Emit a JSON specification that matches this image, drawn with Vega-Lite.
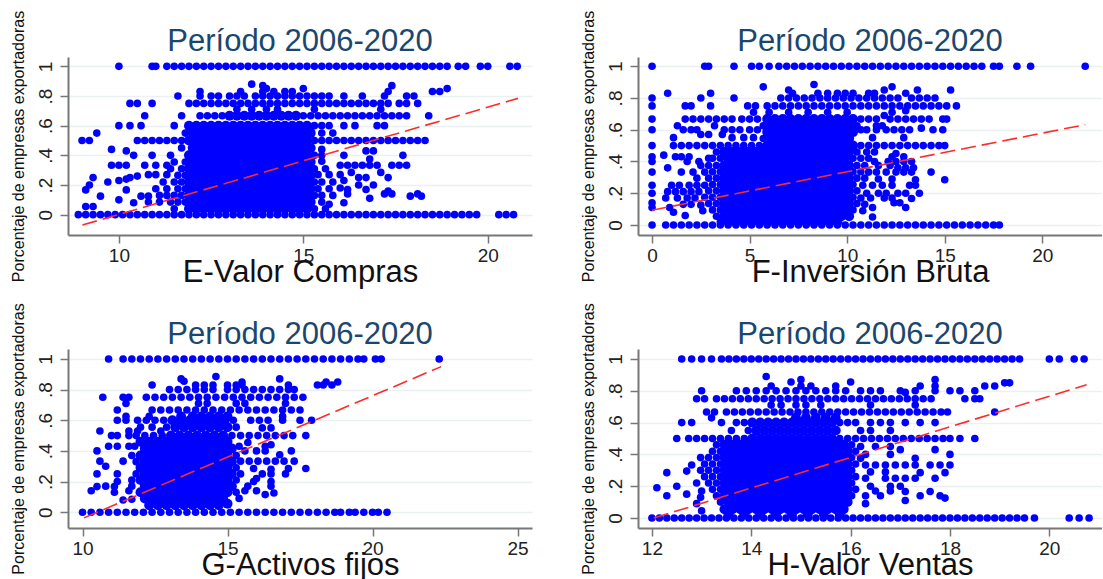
{"$schema":"https://vega.github.io/schema/vega-lite/v6.json","padding":{"left":9,"top":10,"right":0,"bottom":0},"background":"white","columns":2,"bounds":"flush","spacing":{"column":106,"row":114},
"config":{"view":{"stroke":null},"title":{"font":"Liberation Sans","fontSize":31,"fontWeight":"normal","color":"#1a476f","offset":6,"anchor":"middle","dy":54},"axis":{"labelFont":"Liberation Sans","titleFont":"Liberation Sans","labelFontSize":19,"labelColor":"#222222","titleColor":"#111111","titleFontWeight":"normal","domainColor":"#777777","domainWidth":2,"tickColor":"#777777","tickSize":8,"tickWidth":1.5,"labelOverlap":false},"axisX":{"grid":false,"titleFontSize":31,"titlePadding":-8,"labelPadding":3},"axisY":{"grid":true,"gridColor":"#e9f1f3","gridWidth":1.5,"labelAngle":-90,"titleFontSize":16,"titlePadding":10,"labelPadding":5}},
"datasets":{
"e":[{"x":10,"y":1},{"x":10.9,"y":1},{"x":11,"y":1},{"x":11.3,"y":1},{"x":11.5,"y":1},{"x":11.7,"y":1},{"x":11.9,"y":1},{"x":12.1,"y":1},{"x":12.3,"y":1},{"x":12.5,"y":1},{"x":12.7,"y":1},{"x":12.9,"y":1},{"x":13.1,"y":1},{"x":13.3,"y":1},{"x":13.5,"y":1},{"x":13.7,"y":1},{"x":13.9,"y":1},{"x":14.1,"y":1},{"x":14.3,"y":1},{"x":14.5,"y":1},{"x":14.7,"y":1},{"x":14.9,"y":1},{"x":15.1,"y":1},{"x":15.3,"y":1},{"x":15.5,"y":1},{"x":15.7,"y":1},{"x":15.9,"y":1},{"x":16.1,"y":1},{"x":16.3,"y":1},{"x":16.5,"y":1},{"x":16.7,"y":1},{"x":16.9,"y":1},{"x":17.1,"y":1},{"x":17.3,"y":1},{"x":17.5,"y":1},{"x":17.7,"y":1},{"x":17.9,"y":1},{"x":18.1,"y":1},{"x":18.3,"y":1},{"x":18.5,"y":1},{"x":18.7,"y":1},{"x":18.9,"y":1},{"x":19.2,"y":1},{"x":19.4,"y":1},{"x":19.8,"y":1},{"x":20,"y":1},{"x":20.6,"y":1},{"x":20.8,"y":1},
{"x":8.9,"y":0},{"x":9.1,"y":0},{"x":9.3,"y":0},{"x":9.5,"y":0},{"x":9.7,"y":0},{"x":9.9,"y":0},{"x":10.1,"y":0},{"x":10.3,"y":0},{"x":10.5,"y":0},{"x":10.7,"y":0},{"x":10.9,"y":0},{"x":11.1,"y":0},{"x":11.3,"y":0},{"x":11.5,"y":0},{"x":11.7,"y":0},{"x":11.9,"y":0},{"x":12.1,"y":0},{"x":12.3,"y":0},{"x":12.5,"y":0},{"x":12.7,"y":0},{"x":12.9,"y":0},{"x":13.1,"y":0},{"x":13.3,"y":0},{"x":13.5,"y":0},{"x":13.7,"y":0},{"x":13.9,"y":0},{"x":14.1,"y":0},{"x":14.3,"y":0},{"x":14.5,"y":0},{"x":14.7,"y":0},{"x":14.9,"y":0},{"x":15.1,"y":0},{"x":15.3,"y":0},{"x":15.5,"y":0},{"x":15.7,"y":0},{"x":15.9,"y":0},{"x":16.1,"y":0},{"x":16.3,"y":0},{"x":16.5,"y":0},{"x":16.7,"y":0},{"x":16.9,"y":0},{"x":17.1,"y":0},{"x":17.3,"y":0},{"x":17.5,"y":0},{"x":17.7,"y":0},{"x":17.9,"y":0},{"x":18.1,"y":0},{"x":18.3,"y":0},{"x":18.5,"y":0},{"x":18.7,"y":0},{"x":18.9,"y":0},{"x":19.1,"y":0},{"x":19.3,"y":0},{"x":19.5,"y":0},{"x":19.7,"y":0},{"x":20.3,"y":0},{"x":20.5,"y":0},{"x":20.7,"y":0},
{"x":13.6,"y":0.88},{"x":13.9,"y":0.87},{"x":14,"y":0.85},{"x":15,"y":0.85},{"x":12.2,"y":0.83},{"x":13.3,"y":0.83},{"x":13.9,"y":0.83},{"x":14.2,"y":0.83},{"x":14.5,"y":0.83},{"x":14.7,"y":0.83},{"x":17.3,"y":0.83},{"x":17.4,"y":0.87},{"x":18.5,"y":0.83},{"x":18.7,"y":0.83},{"x":18.9,"y":0.85},{"x":11.6,"y":0.8},{"x":12.2,"y":0.8},{"x":12.5,"y":0.8},{"x":12.7,"y":0.8},{"x":13,"y":0.8},{"x":13.2,"y":0.8},{"x":13.4,"y":0.8},{"x":13.7,"y":0.8},{"x":13.9,"y":0.8},{"x":14.1,"y":0.8},{"x":14.3,"y":0.8},{"x":14.5,"y":0.8},{"x":14.7,"y":0.8},{"x":14.9,"y":0.8},{"x":15.1,"y":0.8},{"x":15.3,"y":0.8},{"x":15.5,"y":0.8},{"x":15.7,"y":0.8},{"x":16.1,"y":0.8},{"x":16.6,"y":0.8},{"x":17.2,"y":0.8},{"x":17.8,"y":0.8},{"x":18,"y":0.8},
{"x":10.3,"y":0.75},{"x":10.5,"y":0.75},{"x":10.9,"y":0.75},{"x":11.9,"y":0.75},{"x":12.1,"y":0.75},{"x":12.3,"y":0.75},{"x":12.5,"y":0.75},{"x":12.7,"y":0.75},{"x":12.9,"y":0.75},{"x":13.1,"y":0.75},{"x":13.3,"y":0.75},{"x":13.5,"y":0.75},{"x":13.7,"y":0.75},{"x":13.9,"y":0.75},{"x":14.1,"y":0.75},{"x":14.3,"y":0.75},{"x":14.5,"y":0.75},{"x":14.7,"y":0.75},{"x":14.9,"y":0.75},{"x":15.1,"y":0.75},{"x":15.3,"y":0.75},{"x":15.5,"y":0.75},{"x":15.7,"y":0.75},{"x":15.9,"y":0.75},{"x":16.1,"y":0.75},{"x":16.3,"y":0.75},{"x":16.5,"y":0.75},{"x":16.7,"y":0.75},{"x":16.9,"y":0.75},{"x":17.1,"y":0.75},{"x":17.3,"y":0.75},{"x":17.6,"y":0.75},{"x":17.8,"y":0.75},{"x":18.1,"y":0.75},{"x":13.2,"y":0.71},{"x":13.6,"y":0.71},{"x":14,"y":0.71},{"x":14.3,"y":0.71},{"x":15.3,"y":0.71},{"x":17.1,"y":0.71},
{"x":10.7,"y":0.667},{"x":11.7,"y":0.667},{"x":12.2,"y":0.667},{"x":12.4,"y":0.667},{"x":12.6,"y":0.667},{"x":12.8,"y":0.667},{"x":13,"y":0.667},{"x":13.2,"y":0.667},{"x":13.4,"y":0.667},{"x":13.6,"y":0.667},{"x":13.8,"y":0.667},{"x":14,"y":0.667},{"x":14.2,"y":0.667},{"x":14.4,"y":0.667},{"x":14.6,"y":0.667},{"x":14.8,"y":0.667},{"x":15,"y":0.667},{"x":15.2,"y":0.667},{"x":15.4,"y":0.667},{"x":15.6,"y":0.667},{"x":15.8,"y":0.667},{"x":16,"y":0.667},{"x":16.2,"y":0.667},{"x":16.4,"y":0.667},{"x":16.6,"y":0.667},{"x":16.8,"y":0.667},{"x":17,"y":0.667},{"x":17.2,"y":0.667},{"x":17.4,"y":0.667},{"x":17.6,"y":0.667},{"x":17.8,"y":0.667},{"x":18.4,"y":0.667},
{"x":10,"y":0.6},{"x":10.3,"y":0.6},{"x":10.6,"y":0.6},{"x":11.5,"y":0.6},{"x":11.9,"y":0.6},{"x":12.1,"y":0.6},{"x":12.3,"y":0.6},{"x":12.5,"y":0.6},{"x":12.7,"y":0.6},{"x":12.9,"y":0.6},{"x":13.1,"y":0.6},{"x":13.3,"y":0.6},{"x":13.5,"y":0.6},{"x":13.7,"y":0.6},{"x":13.9,"y":0.6},{"x":14.1,"y":0.6},{"x":14.3,"y":0.6},{"x":14.5,"y":0.6},{"x":14.7,"y":0.6},{"x":14.9,"y":0.6},{"x":15.1,"y":0.6},{"x":15.3,"y":0.6},{"x":15.5,"y":0.6},{"x":15.7,"y":0.6},{"x":16.1,"y":0.6},{"x":16.4,"y":0.6},{"x":17,"y":0.6},{"x":17.2,"y":0.6},{"x":9.4,"y":0.55},{"x":11.8,"y":0.55},{"x":12,"y":0.55},{"x":12.2,"y":0.55},{"x":12.4,"y":0.55},{"x":12.6,"y":0.55},{"x":12.8,"y":0.55},{"x":13,"y":0.55},{"x":13.2,"y":0.55},{"x":13.4,"y":0.55},{"x":13.6,"y":0.55},{"x":13.8,"y":0.55},{"x":14,"y":0.55},{"x":14.2,"y":0.55},{"x":14.4,"y":0.55},{"x":14.6,"y":0.55},{"x":14.8,"y":0.55},{"x":15,"y":0.55},{"x":15.2,"y":0.55},{"x":15.5,"y":0.55},{"x":15.8,"y":0.55},
{"x":9,"y":0.5},{"x":9.2,"y":0.5},{"x":10.5,"y":0.5},{"x":10.7,"y":0.5},{"x":10.9,"y":0.5},{"x":11.1,"y":0.5},{"x":11.3,"y":0.5},{"x":11.5,"y":0.5},{"x":11.7,"y":0.5},{"x":11.9,"y":0.5},{"x":12.1,"y":0.5},{"x":12.3,"y":0.5},{"x":12.5,"y":0.5},{"x":12.7,"y":0.5},{"x":12.9,"y":0.5},{"x":13.1,"y":0.5},{"x":13.3,"y":0.5},{"x":13.5,"y":0.5},{"x":13.7,"y":0.5},{"x":13.9,"y":0.5},{"x":14.1,"y":0.5},{"x":14.3,"y":0.5},{"x":14.5,"y":0.5},{"x":14.7,"y":0.5},{"x":14.9,"y":0.5},{"x":15.1,"y":0.5},{"x":15.3,"y":0.5},{"x":15.5,"y":0.5},{"x":15.7,"y":0.5},{"x":15.9,"y":0.5},{"x":16.1,"y":0.5},{"x":16.3,"y":0.5},{"x":16.5,"y":0.5},{"x":16.7,"y":0.5},{"x":16.9,"y":0.5},{"x":17.1,"y":0.5},{"x":17.3,"y":0.5},{"x":17.5,"y":0.5},{"x":17.7,"y":0.5},{"x":17.9,"y":0.5},{"x":18.1,"y":0.5},{"x":18.3,"y":0.5},
{"x":9.8,"y":0.44},{"x":10.2,"y":0.43},{"x":11.7,"y":0.45},{"x":12,"y":0.45},{"x":12.2,"y":0.45},{"x":12.4,"y":0.45},{"x":12.6,"y":0.45},{"x":12.8,"y":0.45},{"x":13,"y":0.45},{"x":13.2,"y":0.45},{"x":13.4,"y":0.45},{"x":13.6,"y":0.45},{"x":13.8,"y":0.45},{"x":14,"y":0.45},{"x":14.2,"y":0.45},{"x":14.4,"y":0.45},{"x":14.6,"y":0.45},{"x":14.8,"y":0.45},{"x":15,"y":0.45},{"x":15.2,"y":0.45},{"x":15.5,"y":0.44},
{"x":10.4,"y":0.4},{"x":10.9,"y":0.4},{"x":11.4,"y":0.4},{"x":11.9,"y":0.4},{"x":12.1,"y":0.4},{"x":12.3,"y":0.4},{"x":12.5,"y":0.4},{"x":12.7,"y":0.4},{"x":12.9,"y":0.4},{"x":13.1,"y":0.4},{"x":13.3,"y":0.4},{"x":13.5,"y":0.4},{"x":13.7,"y":0.4},{"x":13.9,"y":0.4},{"x":14.1,"y":0.4},{"x":14.3,"y":0.4},{"x":14.5,"y":0.4},{"x":14.7,"y":0.4},{"x":14.9,"y":0.4},{"x":15.1,"y":0.4},{"x":15.3,"y":0.4},{"x":15.5,"y":0.4},{"x":16.1,"y":0.4},{"x":16.7,"y":0.43},{"x":16.9,"y":0.43},{"x":16.8,"y":0.375},{"x":17.7,"y":0.4},
{"x":9.8,"y":0.333},{"x":10,"y":0.333},{"x":10.2,"y":0.333},{"x":10.7,"y":0.333},{"x":11,"y":0.333},{"x":11.3,"y":0.333},{"x":11.5,"y":0.355},{"x":11.8,"y":0.355},{"x":12,"y":0.355},{"x":12.2,"y":0.355},{"x":12.4,"y":0.355},{"x":12.6,"y":0.355},{"x":12.8,"y":0.355},{"x":13,"y":0.355},{"x":13.2,"y":0.355},{"x":13.4,"y":0.355},{"x":13.6,"y":0.355},{"x":13.8,"y":0.355},{"x":14,"y":0.355},{"x":14.2,"y":0.355},{"x":14.4,"y":0.355},{"x":14.6,"y":0.355},{"x":14.8,"y":0.355},{"x":15,"y":0.355},{"x":15.2,"y":0.355},{"x":15.5,"y":0.36},{"x":16,"y":0.333},{"x":16.2,"y":0.333},{"x":16.4,"y":0.333},{"x":16.6,"y":0.333},{"x":16.8,"y":0.333},{"x":17,"y":0.333},{"x":17.4,"y":0.333},{"x":17.6,"y":0.333},{"x":17.8,"y":0.333},
{"x":11.4,"y":0.31},{"x":11.7,"y":0.31},{"x":11.9,"y":0.31},{"x":12.1,"y":0.31},{"x":12.3,"y":0.31},{"x":12.5,"y":0.31},{"x":12.7,"y":0.31},{"x":12.9,"y":0.31},{"x":13.1,"y":0.31},{"x":13.3,"y":0.31},{"x":13.5,"y":0.31},{"x":13.7,"y":0.31},{"x":13.9,"y":0.31},{"x":14.1,"y":0.31},{"x":14.3,"y":0.31},{"x":14.5,"y":0.31},{"x":14.7,"y":0.31},{"x":14.9,"y":0.31},{"x":15.1,"y":0.31},{"x":15.3,"y":0.31},{"x":15.6,"y":0.31},
{"x":10.8,"y":0.27},{"x":11,"y":0.27},{"x":11.3,"y":0.27},{"x":11.6,"y":0.265},{"x":11.8,"y":0.265},{"x":12,"y":0.265},{"x":12.2,"y":0.265},{"x":12.4,"y":0.265},{"x":12.6,"y":0.265},{"x":12.8,"y":0.265},{"x":13,"y":0.265},{"x":13.2,"y":0.265},{"x":13.4,"y":0.265},{"x":13.6,"y":0.265},{"x":13.8,"y":0.265},{"x":14,"y":0.265},{"x":14.2,"y":0.265},{"x":14.4,"y":0.265},{"x":14.6,"y":0.265},{"x":14.8,"y":0.265},{"x":15,"y":0.265},{"x":15.2,"y":0.265},{"x":15.4,"y":0.27},{"x":15.7,"y":0.27},{"x":16,"y":0.27},{"x":16.3,"y":0.285},{"x":16.5,"y":0.25},{"x":16.7,"y":0.25},{"x":17.1,"y":0.285},{"x":17.3,"y":0.25},
{"x":9.3,"y":0.25},{"x":10.3,"y":0.25},{"x":10.5,"y":0.26},{"x":9.2,"y":0.2},{"x":9.7,"y":0.22},{"x":10,"y":0.23},{"x":10.2,"y":0.24},{"x":11.2,"y":0.22},{"x":11.5,"y":0.22},{"x":11.7,"y":0.22},{"x":11.9,"y":0.22},{"x":12.1,"y":0.22},{"x":12.3,"y":0.22},{"x":12.5,"y":0.22},{"x":12.7,"y":0.22},{"x":12.9,"y":0.22},{"x":13.1,"y":0.22},{"x":13.3,"y":0.22},{"x":13.5,"y":0.22},{"x":13.7,"y":0.22},{"x":13.9,"y":0.22},{"x":14.1,"y":0.22},{"x":14.3,"y":0.22},{"x":14.5,"y":0.22},{"x":14.7,"y":0.22},{"x":14.9,"y":0.22},{"x":15.1,"y":0.22},{"x":15.3,"y":0.22},{"x":15.5,"y":0.22},{"x":15.8,"y":0.22},{"x":16.1,"y":0.23},{"x":16,"y":0.18},{"x":16.2,"y":0.17},{"x":16.5,"y":0.2},{"x":16.7,"y":0.17},{"x":16.9,"y":0.2},
{"x":9.1,"y":0.167},{"x":10.2,"y":0.167},{"x":9.5,"y":0.125},{"x":11,"y":0.175},{"x":11.3,"y":0.175},{"x":11.6,"y":0.175},{"x":11.8,"y":0.175},{"x":12,"y":0.175},{"x":12.2,"y":0.175},{"x":12.4,"y":0.175},{"x":12.6,"y":0.175},{"x":12.8,"y":0.175},{"x":13,"y":0.175},{"x":13.2,"y":0.175},{"x":13.4,"y":0.175},{"x":13.6,"y":0.175},{"x":13.8,"y":0.175},{"x":14,"y":0.175},{"x":14.2,"y":0.175},{"x":14.4,"y":0.175},{"x":14.6,"y":0.175},{"x":14.8,"y":0.175},{"x":15,"y":0.175},{"x":15.2,"y":0.175},{"x":15.4,"y":0.175},{"x":15.7,"y":0.175},
{"x":10.6,"y":0.125},{"x":10.8,"y":0.125},{"x":11.1,"y":0.13},{"x":11.3,"y":0.13},{"x":11.5,"y":0.13},{"x":11.7,"y":0.13},{"x":11.9,"y":0.13},{"x":12.1,"y":0.13},{"x":12.3,"y":0.13},{"x":12.5,"y":0.13},{"x":12.7,"y":0.13},{"x":12.9,"y":0.13},{"x":13.1,"y":0.13},{"x":13.3,"y":0.13},{"x":13.5,"y":0.13},{"x":13.7,"y":0.13},{"x":13.9,"y":0.13},{"x":14.1,"y":0.13},{"x":14.3,"y":0.13},{"x":14.5,"y":0.13},{"x":14.7,"y":0.13},{"x":14.9,"y":0.13},{"x":15.1,"y":0.13},{"x":15.3,"y":0.13},{"x":15.5,"y":0.13},{"x":15.8,"y":0.13},{"x":16.2,"y":0.14},{"x":17.2,"y":0.14},{"x":17.4,"y":0.14},{"x":17.3,"y":0.16},{"x":17.9,"y":0.125},{"x":18.1,"y":0.14},{"x":18.2,"y":0.125},{"x":16.8,"y":0.11},
{"x":10,"y":0.1},{"x":10.4,"y":0.08},{"x":10.8,"y":0.085},{"x":11.1,"y":0.085},{"x":11.4,"y":0.085},{"x":11.6,"y":0.085},{"x":11.8,"y":0.085},{"x":12,"y":0.085},{"x":12.2,"y":0.085},{"x":12.4,"y":0.085},{"x":12.6,"y":0.085},{"x":12.8,"y":0.085},{"x":13,"y":0.085},{"x":13.2,"y":0.085},{"x":13.4,"y":0.085},{"x":13.6,"y":0.085},{"x":13.8,"y":0.085},{"x":14,"y":0.085},{"x":14.2,"y":0.085},{"x":14.4,"y":0.085},{"x":14.6,"y":0.085},{"x":14.8,"y":0.085},{"x":15,"y":0.085},{"x":15.2,"y":0.085},{"x":15.5,"y":0.085},{"x":15.7,"y":0.07},{"x":16.1,"y":0.08},{"x":9.1,"y":0.055},{"x":9.3,"y":0.055},
{"x":11.5,"y":0.04},{"x":11.9,"y":0.04},{"x":12.1,"y":0.04},{"x":12.3,"y":0.04},{"x":12.5,"y":0.04},{"x":12.7,"y":0.04},{"x":12.9,"y":0.04},{"x":13.1,"y":0.04},{"x":13.3,"y":0.04},{"x":13.5,"y":0.04},{"x":13.7,"y":0.04},{"x":13.9,"y":0.04},{"x":14.1,"y":0.04},{"x":14.3,"y":0.04},{"x":14.5,"y":0.04},{"x":14.7,"y":0.04},{"x":14.9,"y":0.04},{"x":15.1,"y":0.04},{"x":15.3,"y":0.04},{"x":15.6,"y":0.04}],
"f":[{"x":0,"y":1},{"x":2.7,"y":1},{"x":2.9,"y":1},{"x":4.2,"y":1},{"x":5.1,"y":1},{"x":5.5,"y":1},{"x":6,"y":1},{"x":6.5,"y":1},{"x":6.9,"y":1},{"x":7.3,"y":1},{"x":7.7,"y":1},{"x":8.1,"y":1},{"x":8.5,"y":1},{"x":8.9,"y":1},{"x":9.3,"y":1},{"x":9.7,"y":1},{"x":10.1,"y":1},{"x":10.5,"y":1},{"x":10.9,"y":1},{"x":11.3,"y":1},{"x":11.7,"y":1},{"x":12.1,"y":1},{"x":12.5,"y":1},{"x":12.9,"y":1},{"x":13.3,"y":1},{"x":13.7,"y":1},{"x":14.1,"y":1},{"x":14.5,"y":1},{"x":14.9,"y":1},{"x":15.3,"y":1},{"x":15.7,"y":1},{"x":16.1,"y":1},{"x":16.5,"y":1},{"x":16.9,"y":1},{"x":17.5,"y":1},{"x":17.8,"y":1},{"x":18.7,"y":1},{"x":19.4,"y":1},{"x":22.2,"y":1},
{"x":0,"y":0},{"x":0.7,"y":0},{"x":1.1,"y":0},{"x":1.5,"y":0},{"x":1.9,"y":0},{"x":2.3,"y":0},{"x":2.7,"y":0},{"x":3.1,"y":0},{"x":3.5,"y":0},{"x":3.9,"y":0},{"x":4.3,"y":0},{"x":4.7,"y":0},{"x":5.1,"y":0},{"x":5.5,"y":0},{"x":5.9,"y":0},{"x":6.3,"y":0},{"x":6.7,"y":0},{"x":7.1,"y":0},{"x":7.5,"y":0},{"x":7.9,"y":0},{"x":8.3,"y":0},{"x":8.7,"y":0},{"x":9.1,"y":0},{"x":9.5,"y":0},{"x":9.9,"y":0},{"x":10.3,"y":0},{"x":10.7,"y":0},{"x":11.1,"y":0},{"x":11.5,"y":0},{"x":11.9,"y":0},{"x":12.3,"y":0},{"x":12.7,"y":0},{"x":13.1,"y":0},{"x":13.5,"y":0},{"x":13.9,"y":0},{"x":14.3,"y":0},{"x":14.7,"y":0},{"x":15.1,"y":0},{"x":15.5,"y":0},{"x":15.9,"y":0},{"x":16.3,"y":0},{"x":16.7,"y":0},{"x":17.1,"y":0},{"x":17.5,"y":0},{"x":17.8,"y":0},
{"x":0,"y":0.8},{"x":0,"y":0.75},{"x":0,"y":0.667},{"x":0,"y":0.6},{"x":0,"y":0.5},{"x":0,"y":0.43},{"x":0,"y":0.4},{"x":0,"y":0.333},{"x":0,"y":0.25},{"x":0,"y":0.2},{"x":0,"y":0.14},{"x":0,"y":0.11},{"x":8.3,"y":0.885},{"x":5.7,"y":0.87},{"x":12.3,"y":0.87},{"x":15.3,"y":0.85},{"x":0.8,"y":0.83},{"x":3,"y":0.83},{"x":7,"y":0.85},{"x":7.2,"y":0.83},{"x":8.5,"y":0.83},{"x":9,"y":0.83},{"x":9.5,"y":0.83},{"x":9.9,"y":0.83},{"x":10.3,"y":0.83},{"x":11.1,"y":0.83},{"x":11.4,"y":0.83},{"x":11.9,"y":0.85},{"x":13,"y":0.83},{"x":13.6,"y":0.85},{"x":2.5,"y":0.8},{"x":4.2,"y":0.8},{"x":6.6,"y":0.8},{"x":7,"y":0.8},{"x":7.4,"y":0.8},{"x":7.8,"y":0.8},{"x":8.2,"y":0.8},{"x":8.6,"y":0.8},{"x":9,"y":0.8},{"x":9.4,"y":0.8},{"x":9.8,"y":0.8},{"x":10.2,"y":0.8},{"x":10.6,"y":0.8},{"x":11,"y":0.8},{"x":11.4,"y":0.8},{"x":11.8,"y":0.8},{"x":12.2,"y":0.8},{"x":12.6,"y":0.8},{"x":13.3,"y":0.8},{"x":13.7,"y":0.8},{"x":14.1,"y":0.8},{"x":14.5,"y":0.8},
{"x":1.7,"y":0.75},{"x":2,"y":0.75},{"x":3,"y":0.75},{"x":4.9,"y":0.75},{"x":5.3,"y":0.75},{"x":5.9,"y":0.75},{"x":6.3,"y":0.75},{"x":6.7,"y":0.75},{"x":7.1,"y":0.75},{"x":7.5,"y":0.75},{"x":7.9,"y":0.75},{"x":8.3,"y":0.75},{"x":8.7,"y":0.75},{"x":9.1,"y":0.75},{"x":9.5,"y":0.75},{"x":9.9,"y":0.75},{"x":10.3,"y":0.75},{"x":10.7,"y":0.75},{"x":11.1,"y":0.75},{"x":11.5,"y":0.75},{"x":11.9,"y":0.75},{"x":12.3,"y":0.75},{"x":12.7,"y":0.75},{"x":13.1,"y":0.75},{"x":13.5,"y":0.75},{"x":13.9,"y":0.75},{"x":14.3,"y":0.75},{"x":14.7,"y":0.75},{"x":15.1,"y":0.75},{"x":15.6,"y":0.75},{"x":5.2,"y":0.71},{"x":6,"y":0.71},{"x":7,"y":0.71},{"x":8,"y":0.71},{"x":9,"y":0.71},{"x":10,"y":0.71},{"x":12.3,"y":0.71},{"x":13,"y":0.72},
{"x":1.7,"y":0.667},{"x":2.1,"y":0.667},{"x":2.5,"y":0.667},{"x":2.9,"y":0.667},{"x":3.3,"y":0.667},{"x":3.7,"y":0.667},{"x":4.1,"y":0.667},{"x":4.6,"y":0.667},{"x":5,"y":0.667},{"x":5.4,"y":0.667},{"x":5.9,"y":0.667},{"x":6.3,"y":0.667},{"x":6.7,"y":0.667},{"x":7.1,"y":0.667},{"x":7.5,"y":0.667},{"x":7.9,"y":0.667},{"x":8.3,"y":0.667},{"x":8.7,"y":0.667},{"x":9.1,"y":0.667},{"x":9.5,"y":0.667},{"x":9.9,"y":0.667},{"x":10.3,"y":0.667},{"x":10.7,"y":0.667},{"x":11.1,"y":0.667},{"x":11.5,"y":0.667},{"x":11.9,"y":0.69},{"x":12.2,"y":0.667},{"x":12.6,"y":0.667},{"x":13,"y":0.667},{"x":13.4,"y":0.667},{"x":13.8,"y":0.667},{"x":14.2,"y":0.667},{"x":14.9,"y":0.667},{"x":15.1,"y":0.667},
{"x":1.3,"y":0.625},{"x":3.2,"y":0.625},{"x":5.7,"y":0.625},{"x":6.1,"y":0.625},{"x":6.5,"y":0.625},{"x":6.9,"y":0.625},{"x":7.3,"y":0.625},{"x":7.7,"y":0.625},{"x":8.1,"y":0.625},{"x":8.5,"y":0.625},{"x":8.9,"y":0.625},{"x":9.3,"y":0.625},{"x":9.7,"y":0.625},{"x":10.1,"y":0.625},{"x":10.5,"y":0.625},{"x":11.5,"y":0.625},{"x":11.8,"y":0.625},{"x":1.6,"y":0.6},{"x":2,"y":0.6},{"x":2.3,"y":0.6},{"x":3.7,"y":0.6},{"x":4.1,"y":0.6},{"x":4.5,"y":0.6},{"x":5,"y":0.6},{"x":5.4,"y":0.6},{"x":5.9,"y":0.585},{"x":6.3,"y":0.585},{"x":6.7,"y":0.585},{"x":7.1,"y":0.585},{"x":7.5,"y":0.585},{"x":7.9,"y":0.585},{"x":8.3,"y":0.585},{"x":8.7,"y":0.585},{"x":9.1,"y":0.585},{"x":9.5,"y":0.585},{"x":9.9,"y":0.585},{"x":10.3,"y":0.585},{"x":10.7,"y":0.6},{"x":11,"y":0.6},{"x":11.5,"y":0.6},{"x":12,"y":0.6},{"x":12.4,"y":0.6},{"x":12.8,"y":0.6},{"x":13.2,"y":0.6},{"x":13.8,"y":0.61},{"x":14.4,"y":0.6},{"x":14.9,"y":0.6},
{"x":1.1,"y":0.55},{"x":2.5,"y":0.57},{"x":2.9,"y":0.57},{"x":3.6,"y":0.57},{"x":4.1,"y":0.55},{"x":4.7,"y":0.55},{"x":5.2,"y":0.55},{"x":5.7,"y":0.545},{"x":6.1,"y":0.545},{"x":6.5,"y":0.545},{"x":6.9,"y":0.545},{"x":7.3,"y":0.545},{"x":7.7,"y":0.545},{"x":8.1,"y":0.545},{"x":8.5,"y":0.545},{"x":8.9,"y":0.545},{"x":9.3,"y":0.545},{"x":9.7,"y":0.545},{"x":10.1,"y":0.545},{"x":11.3,"y":0.55},{"x":12.9,"y":0.55},
{"x":1.1,"y":0.5},{"x":1.5,"y":0.5},{"x":1.9,"y":0.5},{"x":2.3,"y":0.5},{"x":2.7,"y":0.5},{"x":3.1,"y":0.5},{"x":3.5,"y":0.5},{"x":3.9,"y":0.5},{"x":4.3,"y":0.5},{"x":4.7,"y":0.5},{"x":5.1,"y":0.5},{"x":5.5,"y":0.5},{"x":5.9,"y":0.5},{"x":6.3,"y":0.5},{"x":6.7,"y":0.5},{"x":7.1,"y":0.5},{"x":7.5,"y":0.5},{"x":7.9,"y":0.5},{"x":8.3,"y":0.5},{"x":8.7,"y":0.5},{"x":9.1,"y":0.5},{"x":9.5,"y":0.5},{"x":9.9,"y":0.5},{"x":10.3,"y":0.5},{"x":10.7,"y":0.5},{"x":11.1,"y":0.5},{"x":11.5,"y":0.5},{"x":11.9,"y":0.5},{"x":12.3,"y":0.5},{"x":12.7,"y":0.5},{"x":13.1,"y":0.5},{"x":13.5,"y":0.5},{"x":13.9,"y":0.5},{"x":14.3,"y":0.5},{"x":14.7,"y":0.5},{"x":15,"y":0.5},
{"x":0.6,"y":0.44},{"x":1.2,"y":0.43},{"x":1.5,"y":0.43},{"x":1.9,"y":0.43},{"x":3.3,"y":0.46},{"x":3.7,"y":0.46},{"x":4.1,"y":0.46},{"x":4.5,"y":0.46},{"x":4.9,"y":0.46},{"x":5.3,"y":0.46},{"x":5.7,"y":0.46},{"x":6.1,"y":0.46},{"x":6.5,"y":0.46},{"x":6.9,"y":0.46},{"x":7.3,"y":0.46},{"x":7.7,"y":0.46},{"x":8.1,"y":0.46},{"x":8.5,"y":0.46},{"x":8.9,"y":0.46},{"x":9.3,"y":0.46},{"x":9.7,"y":0.46},{"x":10.1,"y":0.46},{"x":10.5,"y":0.46},{"x":11,"y":0.46},{"x":11.4,"y":0.46},{"x":12.5,"y":0.45},{"x":12.9,"y":0.43},{"x":12.3,"y":0.43},
{"x":1.8,"y":0.4},{"x":2.4,"y":0.4},{"x":2.9,"y":0.42},{"x":3.1,"y":0.42},{"x":3.5,"y":0.42},{"x":3.9,"y":0.42},{"x":4.3,"y":0.42},{"x":4.7,"y":0.42},{"x":5.1,"y":0.42},{"x":5.5,"y":0.42},{"x":5.9,"y":0.42},{"x":6.3,"y":0.42},{"x":6.7,"y":0.42},{"x":7.1,"y":0.42},{"x":7.5,"y":0.42},{"x":7.9,"y":0.42},{"x":8.3,"y":0.42},{"x":8.7,"y":0.42},{"x":9.1,"y":0.42},{"x":9.5,"y":0.42},{"x":9.9,"y":0.42},{"x":10.3,"y":0.42},{"x":10.7,"y":0.42},{"x":11.1,"y":0.42},{"x":11.4,"y":0.4},{"x":12.1,"y":0.4},{"x":12.5,"y":0.4},{"x":12.9,"y":0.4},{"x":13.3,"y":0.4},
{"x":0.8,"y":0.36},{"x":2.5,"y":0.375},{"x":2.9,"y":0.375},{"x":3.3,"y":0.375},{"x":3.7,"y":0.375},{"x":4.1,"y":0.375},{"x":4.5,"y":0.375},{"x":4.9,"y":0.375},{"x":5.3,"y":0.375},{"x":5.7,"y":0.375},{"x":6.1,"y":0.375},{"x":6.5,"y":0.375},{"x":6.9,"y":0.375},{"x":7.3,"y":0.375},{"x":7.7,"y":0.375},{"x":8.1,"y":0.375},{"x":8.5,"y":0.375},{"x":8.9,"y":0.375},{"x":9.3,"y":0.375},{"x":9.7,"y":0.375},{"x":10.1,"y":0.375},{"x":10.5,"y":0.375},{"x":10.9,"y":0.375},{"x":11.6,"y":0.375},{"x":12.2,"y":0.375},{"x":12.6,"y":0.36},{"x":13,"y":0.36},{"x":13.4,"y":0.36},
{"x":1.5,"y":0.333},{"x":2.1,"y":0.333},{"x":2.7,"y":0.333},{"x":3.1,"y":0.335},{"x":3.5,"y":0.335},{"x":3.9,"y":0.335},{"x":4.3,"y":0.335},{"x":4.7,"y":0.335},{"x":5.1,"y":0.335},{"x":5.5,"y":0.335},{"x":5.9,"y":0.335},{"x":6.3,"y":0.335},{"x":6.7,"y":0.335},{"x":7.1,"y":0.335},{"x":7.5,"y":0.335},{"x":7.9,"y":0.335},{"x":8.3,"y":0.335},{"x":8.7,"y":0.335},{"x":9.1,"y":0.335},{"x":9.5,"y":0.335},{"x":9.9,"y":0.335},{"x":10.3,"y":0.335},{"x":10.7,"y":0.335},{"x":11.1,"y":0.333},{"x":11.5,"y":0.333},{"x":12,"y":0.333},{"x":12.5,"y":0.333},{"x":12.9,"y":0.333},{"x":13.3,"y":0.333},{"x":14.3,"y":0.333},{"x":15,"y":0.285},
{"x":2.3,"y":0.295},{"x":2.9,"y":0.295},{"x":3.3,"y":0.295},{"x":3.7,"y":0.295},{"x":4.1,"y":0.295},{"x":4.5,"y":0.295},{"x":4.9,"y":0.295},{"x":5.3,"y":0.295},{"x":5.7,"y":0.295},{"x":6.1,"y":0.295},{"x":6.5,"y":0.295},{"x":6.9,"y":0.295},{"x":7.3,"y":0.295},{"x":7.7,"y":0.295},{"x":8.1,"y":0.295},{"x":8.5,"y":0.295},{"x":8.9,"y":0.295},{"x":9.3,"y":0.295},{"x":9.7,"y":0.295},{"x":10.1,"y":0.295},{"x":10.5,"y":0.295},{"x":10.9,"y":0.295},{"x":11.6,"y":0.29},{"x":12.3,"y":0.29},{"x":13.5,"y":0.285},
{"x":1,"y":0.25},{"x":1.4,"y":0.25},{"x":1.9,"y":0.25},{"x":2.3,"y":0.25},{"x":2.7,"y":0.25},{"x":3.1,"y":0.255},{"x":3.5,"y":0.255},{"x":3.9,"y":0.255},{"x":4.3,"y":0.255},{"x":4.7,"y":0.255},{"x":5.1,"y":0.255},{"x":5.5,"y":0.255},{"x":5.9,"y":0.255},{"x":6.3,"y":0.255},{"x":6.7,"y":0.255},{"x":7.1,"y":0.255},{"x":7.5,"y":0.255},{"x":7.9,"y":0.255},{"x":8.3,"y":0.255},{"x":8.7,"y":0.255},{"x":9.1,"y":0.255},{"x":9.5,"y":0.255},{"x":9.9,"y":0.255},{"x":10.3,"y":0.255},{"x":10.8,"y":0.25},{"x":11.3,"y":0.25},{"x":11.8,"y":0.25},{"x":12.3,"y":0.25},{"x":13.2,"y":0.25},{"x":13.5,"y":0.25},
{"x":0.8,"y":0.21},{"x":1.2,"y":0.21},{"x":1.6,"y":0.21},{"x":2,"y":0.21},{"x":2.4,"y":0.21},{"x":2.9,"y":0.215},{"x":3.3,"y":0.215},{"x":3.7,"y":0.215},{"x":4.1,"y":0.215},{"x":4.5,"y":0.215},{"x":4.9,"y":0.215},{"x":5.3,"y":0.215},{"x":5.7,"y":0.215},{"x":6.1,"y":0.215},{"x":6.5,"y":0.215},{"x":6.9,"y":0.215},{"x":7.3,"y":0.215},{"x":7.7,"y":0.215},{"x":8.1,"y":0.215},{"x":8.5,"y":0.215},{"x":8.9,"y":0.215},{"x":9.3,"y":0.215},{"x":9.7,"y":0.215},{"x":10.1,"y":0.215},{"x":10.5,"y":0.215},{"x":11,"y":0.2},{"x":11.6,"y":0.2},{"x":12,"y":0.2},{"x":12.6,"y":0.2},{"x":13,"y":0.2},{"x":13.7,"y":0.2},
{"x":0.7,"y":0.17},{"x":1.3,"y":0.17},{"x":1.8,"y":0.17},{"x":2.2,"y":0.17},{"x":2.7,"y":0.175},{"x":3.1,"y":0.175},{"x":3.5,"y":0.175},{"x":3.9,"y":0.175},{"x":4.3,"y":0.175},{"x":4.7,"y":0.175},{"x":5.1,"y":0.175},{"x":5.5,"y":0.175},{"x":5.9,"y":0.175},{"x":6.3,"y":0.175},{"x":6.7,"y":0.175},{"x":7.1,"y":0.175},{"x":7.5,"y":0.175},{"x":7.9,"y":0.175},{"x":8.3,"y":0.175},{"x":8.7,"y":0.175},{"x":9.1,"y":0.175},{"x":9.5,"y":0.175},{"x":9.9,"y":0.175},{"x":10.3,"y":0.175},{"x":10.7,"y":0.17},{"x":11.2,"y":0.17},{"x":11.9,"y":0.17},{"x":12.3,"y":0.17},{"x":13.3,"y":0.167},
{"x":1.6,"y":0.13},{"x":2,"y":0.13},{"x":2.5,"y":0.125},{"x":2.9,"y":0.135},{"x":3.3,"y":0.135},{"x":3.7,"y":0.135},{"x":4.1,"y":0.135},{"x":4.5,"y":0.135},{"x":4.9,"y":0.135},{"x":5.3,"y":0.135},{"x":5.7,"y":0.135},{"x":6.1,"y":0.135},{"x":6.5,"y":0.135},{"x":6.9,"y":0.135},{"x":7.3,"y":0.135},{"x":7.7,"y":0.135},{"x":8.1,"y":0.135},{"x":8.5,"y":0.135},{"x":8.9,"y":0.135},{"x":9.3,"y":0.135},{"x":9.7,"y":0.135},{"x":10.1,"y":0.135},{"x":10.5,"y":0.135},{"x":10.9,"y":0.13},{"x":11.3,"y":0.11},{"x":12.4,"y":0.14},{"x":12.7,"y":0.14},{"x":13,"y":0.11},{"x":0.9,"y":0.11},
{"x":2.6,"y":0.09},{"x":3.1,"y":0.095},{"x":3.5,"y":0.095},{"x":3.9,"y":0.095},{"x":4.3,"y":0.095},{"x":4.7,"y":0.095},{"x":5.1,"y":0.095},{"x":5.5,"y":0.095},{"x":5.9,"y":0.095},{"x":6.3,"y":0.095},{"x":6.7,"y":0.095},{"x":7.1,"y":0.095},{"x":7.5,"y":0.095},{"x":7.9,"y":0.095},{"x":8.3,"y":0.095},{"x":8.7,"y":0.095},{"x":9.1,"y":0.095},{"x":9.5,"y":0.095},{"x":9.9,"y":0.095},{"x":10.3,"y":0.095},{"x":10.8,"y":0.09},{"x":1.1,"y":0.08},{"x":1.7,"y":0.06},
{"x":3.3,"y":0.055},{"x":3.7,"y":0.055},{"x":4.1,"y":0.055},{"x":4.5,"y":0.055},{"x":4.9,"y":0.055},{"x":5.3,"y":0.055},{"x":5.7,"y":0.055},{"x":6.1,"y":0.055},{"x":6.5,"y":0.055},{"x":6.9,"y":0.055},{"x":7.3,"y":0.055},{"x":7.7,"y":0.055},{"x":8.1,"y":0.055},{"x":8.5,"y":0.055},{"x":8.9,"y":0.055},{"x":9.3,"y":0.055},{"x":9.7,"y":0.055},{"x":10.1,"y":0.055},{"x":11.3,"y":0.05},{"x":3.5,"y":0.02},{"x":3.9,"y":0.02},{"x":4.3,"y":0.02},{"x":4.7,"y":0.02},{"x":5.1,"y":0.02},{"x":5.5,"y":0.02},{"x":5.9,"y":0.02},{"x":6.3,"y":0.02},{"x":6.7,"y":0.02},{"x":7.1,"y":0.02},{"x":7.5,"y":0.02},{"x":7.9,"y":0.02},{"x":8.3,"y":0.02},{"x":8.7,"y":0.02},{"x":9.1,"y":0.02},{"x":9.5,"y":0.02}],
"g":[{"x":10.9,"y":1},{"x":11.4,"y":1},{"x":11.7,"y":1},{"x":12,"y":1},{"x":12.3,"y":1},{"x":12.6,"y":1},{"x":12.9,"y":1},{"x":13.2,"y":1},{"x":13.5,"y":1},{"x":13.8,"y":1},{"x":14.1,"y":1},{"x":14.4,"y":1},{"x":14.7,"y":1},{"x":15,"y":1},{"x":15.3,"y":1},{"x":15.6,"y":1},{"x":15.9,"y":1},{"x":16.2,"y":1},{"x":16.5,"y":1},{"x":16.8,"y":1},{"x":17.1,"y":1},{"x":17.4,"y":1},{"x":17.7,"y":1},{"x":18,"y":1},{"x":18.3,"y":1},{"x":18.6,"y":1},{"x":18.9,"y":1},{"x":19.2,"y":1},{"x":19.5,"y":1},{"x":19.7,"y":1},{"x":20.1,"y":1},{"x":20.3,"y":1},{"x":22.3,"y":1},
{"x":10,"y":0},{"x":10.3,"y":0},{"x":10.6,"y":0},{"x":10.9,"y":0},{"x":11.2,"y":0},{"x":11.5,"y":0},{"x":11.8,"y":0},{"x":12.1,"y":0},{"x":12.4,"y":0},{"x":12.7,"y":0},{"x":13,"y":0},{"x":13.3,"y":0},{"x":13.6,"y":0},{"x":13.9,"y":0},{"x":14.2,"y":0},{"x":14.5,"y":0},{"x":14.8,"y":0},{"x":15.1,"y":0},{"x":15.4,"y":0},{"x":15.7,"y":0},{"x":16,"y":0},{"x":16.3,"y":0},{"x":16.6,"y":0},{"x":16.9,"y":0},{"x":17.2,"y":0},{"x":17.5,"y":0},{"x":17.8,"y":0},{"x":18.1,"y":0},{"x":18.4,"y":0},{"x":18.7,"y":0},{"x":18.9,"y":0},{"x":19.2,"y":0},{"x":19.4,"y":0},{"x":19.7,"y":0},{"x":20,"y":0},{"x":20.2,"y":0},{"x":20.5,"y":0},
{"x":14.6,"y":0.885},{"x":13.4,"y":0.87},{"x":13.5,"y":0.855},{"x":16.8,"y":0.87},{"x":15.5,"y":0.85},{"x":12.4,"y":0.83},{"x":13.9,"y":0.83},{"x":14.2,"y":0.83},{"x":14.5,"y":0.83},{"x":15,"y":0.83},{"x":15.3,"y":0.83},{"x":15.5,"y":0.83},{"x":17.1,"y":0.83},{"x":18.1,"y":0.83},{"x":18.3,"y":0.83},{"x":18.4,"y":0.85},{"x":18.6,"y":0.83},{"x":18.8,"y":0.85},{"x":13,"y":0.8},{"x":13.3,"y":0.8},{"x":13.6,"y":0.8},{"x":13.9,"y":0.8},{"x":14.2,"y":0.8},{"x":14.5,"y":0.8},{"x":15,"y":0.8},{"x":15.3,"y":0.8},{"x":15.6,"y":0.8},{"x":15.9,"y":0.8},{"x":16.2,"y":0.8},{"x":16.5,"y":0.8},{"x":16.8,"y":0.8},{"x":17.1,"y":0.8},{"x":17.3,"y":0.8},
{"x":10.7,"y":0.75},{"x":11.4,"y":0.75},{"x":11.6,"y":0.75},{"x":12.2,"y":0.75},{"x":12.5,"y":0.75},{"x":12.8,"y":0.75},{"x":13.1,"y":0.75},{"x":13.4,"y":0.75},{"x":13.7,"y":0.75},{"x":14,"y":0.75},{"x":14.3,"y":0.75},{"x":14.6,"y":0.75},{"x":14.9,"y":0.75},{"x":15.2,"y":0.75},{"x":15.5,"y":0.75},{"x":15.8,"y":0.75},{"x":16.1,"y":0.75},{"x":16.4,"y":0.75},{"x":16.7,"y":0.75},{"x":17,"y":0.75},{"x":17.3,"y":0.75},{"x":17.6,"y":0.75},{"x":11.5,"y":0.71},{"x":14,"y":0.71},{"x":14.3,"y":0.71},{"x":15.3,"y":0.71},{"x":15.6,"y":0.71},{"x":17,"y":0.71},
{"x":11.2,"y":0.667},{"x":12.4,"y":0.667},{"x":12.7,"y":0.667},{"x":13,"y":0.667},{"x":13.3,"y":0.667},{"x":13.6,"y":0.667},{"x":13.9,"y":0.667},{"x":14.2,"y":0.667},{"x":14.5,"y":0.667},{"x":14.8,"y":0.667},{"x":15.1,"y":0.667},{"x":15.4,"y":0.667},{"x":15.7,"y":0.667},{"x":16,"y":0.667},{"x":16.3,"y":0.667},{"x":16.6,"y":0.667},{"x":16.9,"y":0.667},{"x":17.2,"y":0.667},{"x":17.5,"y":0.667},{"x":12.3,"y":0.625},{"x":13.4,"y":0.625},{"x":13.8,"y":0.625},{"x":14.1,"y":0.625},{"x":14.4,"y":0.625},{"x":14.7,"y":0.625},{"x":15,"y":0.625},{"x":11.5,"y":0.625},{"x":16.9,"y":0.625},
{"x":11.2,"y":0.6},{"x":11.5,"y":0.6},{"x":11.9,"y":0.6},{"x":12.2,"y":0.6},{"x":12.5,"y":0.6},{"x":12.8,"y":0.6},{"x":13.1,"y":0.6},{"x":13.4,"y":0.6},{"x":13.7,"y":0.6},{"x":14,"y":0.6},{"x":14.3,"y":0.6},{"x":14.6,"y":0.6},{"x":14.9,"y":0.6},{"x":15.2,"y":0.6},{"x":15.8,"y":0.6},{"x":16.1,"y":0.6},{"x":16.4,"y":0.6},{"x":16.9,"y":0.6},{"x":17.5,"y":0.6},{"x":17.9,"y":0.6},{"x":12,"y":0.555},{"x":12.4,"y":0.555},{"x":12.9,"y":0.555},{"x":13.2,"y":0.555},{"x":13.5,"y":0.555},{"x":13.8,"y":0.555},{"x":14.1,"y":0.555},{"x":14.4,"y":0.555},{"x":14.7,"y":0.555},{"x":15,"y":0.555},{"x":15.3,"y":0.555},{"x":16.2,"y":0.55},{"x":16.5,"y":0.55},{"x":10.6,"y":0.53},{"x":11.6,"y":0.53},{"x":11.9,"y":0.53},{"x":12.7,"y":0.53},
{"x":11,"y":0.5},{"x":11.2,"y":0.5},{"x":11.6,"y":0.5},{"x":11.85,"y":0.5},{"x":12.15,"y":0.5},{"x":12.45,"y":0.5},{"x":12.75,"y":0.5},{"x":13.05,"y":0.5},{"x":13.35,"y":0.5},{"x":13.65,"y":0.5},{"x":13.95,"y":0.5},{"x":14.25,"y":0.5},{"x":14.55,"y":0.5},{"x":14.85,"y":0.5},{"x":15.15,"y":0.5},{"x":15.45,"y":0.5},{"x":15.75,"y":0.5},{"x":16.05,"y":0.5},{"x":16.35,"y":0.5},{"x":16.65,"y":0.5},{"x":16.95,"y":0.5},{"x":17.25,"y":0.5},{"x":17.7,"y":0.5},
{"x":12,"y":0.46},{"x":12.3,"y":0.46},{"x":12.6,"y":0.46},{"x":12.9,"y":0.46},{"x":13.2,"y":0.46},{"x":13.5,"y":0.46},{"x":13.8,"y":0.46},{"x":14.1,"y":0.46},{"x":14.4,"y":0.46},{"x":14.7,"y":0.46},{"x":15,"y":0.46},{"x":15.7,"y":0.455},{"x":16.5,"y":0.44},{"x":10.9,"y":0.43},{"x":11.2,"y":0.43},{"x":11.6,"y":0.43},{"x":11.8,"y":0.43},{"x":16.3,"y":0.43},{"x":15.4,"y":0.43},{"x":10.5,"y":0.4},{"x":12.15,"y":0.415},{"x":12.45,"y":0.415},{"x":12.75,"y":0.415},{"x":13.05,"y":0.415},{"x":13.35,"y":0.415},{"x":13.65,"y":0.415},{"x":13.95,"y":0.415},{"x":14.25,"y":0.415},{"x":14.55,"y":0.415},{"x":14.85,"y":0.415},{"x":15.15,"y":0.415},{"x":15.6,"y":0.4},{"x":16,"y":0.4},{"x":16.3,"y":0.4},{"x":17.2,"y":0.4},
{"x":11.7,"y":0.37},{"x":12,"y":0.37},{"x":12.3,"y":0.37},{"x":12.6,"y":0.37},{"x":12.9,"y":0.37},{"x":13.2,"y":0.37},{"x":13.5,"y":0.37},{"x":13.8,"y":0.37},{"x":14.1,"y":0.37},{"x":14.4,"y":0.37},{"x":14.7,"y":0.37},{"x":15,"y":0.37},{"x":15.3,"y":0.37},{"x":16.8,"y":0.375},{"x":10.6,"y":0.333},{"x":11.4,"y":0.333},{"x":11.85,"y":0.33},{"x":12.15,"y":0.33},{"x":12.45,"y":0.33},{"x":12.75,"y":0.33},{"x":13.05,"y":0.33},{"x":13.35,"y":0.33},{"x":13.65,"y":0.33},{"x":13.95,"y":0.33},{"x":14.25,"y":0.33},{"x":14.55,"y":0.33},{"x":14.85,"y":0.33},{"x":15.15,"y":0.33},{"x":15.45,"y":0.333},{"x":15.75,"y":0.333},{"x":16.05,"y":0.333},{"x":16.35,"y":0.333},{"x":16.65,"y":0.333},{"x":16.95,"y":0.333},{"x":17.3,"y":0.333},{"x":10.8,"y":0.3},
{"x":12,"y":0.29},{"x":12.3,"y":0.29},{"x":12.6,"y":0.29},{"x":12.9,"y":0.29},{"x":13.2,"y":0.29},{"x":13.5,"y":0.29},{"x":13.8,"y":0.29},{"x":14.1,"y":0.29},{"x":14.4,"y":0.29},{"x":14.7,"y":0.29},{"x":15,"y":0.29},{"x":15.3,"y":0.29},{"x":15.9,"y":0.285},{"x":16.5,"y":0.28},{"x":17.1,"y":0.285},{"x":17.7,"y":0.285},{"x":10.5,"y":0.25},{"x":11.2,"y":0.25},{"x":11.85,"y":0.25},{"x":12.15,"y":0.25},{"x":12.45,"y":0.25},{"x":12.75,"y":0.25},{"x":13.05,"y":0.25},{"x":13.35,"y":0.25},{"x":13.65,"y":0.25},{"x":13.95,"y":0.25},{"x":14.25,"y":0.25},{"x":14.55,"y":0.25},{"x":14.85,"y":0.25},{"x":15.15,"y":0.25},{"x":15.45,"y":0.25},{"x":16.2,"y":0.25},{"x":16.5,"y":0.25},{"x":17,"y":0.25},{"x":16.5,"y":0.2},
{"x":11.2,"y":0.2},{"x":11.7,"y":0.21},{"x":12,"y":0.21},{"x":12.3,"y":0.21},{"x":12.6,"y":0.21},{"x":12.9,"y":0.21},{"x":13.2,"y":0.21},{"x":13.5,"y":0.21},{"x":13.8,"y":0.21},{"x":14.1,"y":0.21},{"x":14.4,"y":0.21},{"x":14.7,"y":0.21},{"x":15,"y":0.21},{"x":15.3,"y":0.21},{"x":15.9,"y":0.2},{"x":16,"y":0.22},{"x":10.8,"y":0.17},{"x":11.1,"y":0.167},{"x":10.5,"y":0.167},{"x":11.7,"y":0.17},{"x":12.15,"y":0.17},{"x":12.45,"y":0.17},{"x":12.75,"y":0.17},{"x":13.05,"y":0.17},{"x":13.35,"y":0.17},{"x":13.65,"y":0.17},{"x":13.95,"y":0.17},{"x":14.25,"y":0.17},{"x":14.55,"y":0.17},{"x":14.85,"y":0.17},{"x":15.15,"y":0.17},{"x":15.7,"y":0.17},{"x":16.5,"y":0.17},
{"x":10.3,"y":0.14},{"x":11.1,"y":0.13},{"x":11.6,"y":0.14},{"x":12,"y":0.13},{"x":12.3,"y":0.13},{"x":12.6,"y":0.13},{"x":12.9,"y":0.13},{"x":13.2,"y":0.13},{"x":13.5,"y":0.13},{"x":13.8,"y":0.13},{"x":14.1,"y":0.13},{"x":14.4,"y":0.13},{"x":14.7,"y":0.13},{"x":15,"y":0.13},{"x":15.3,"y":0.13},{"x":15.6,"y":0.14},{"x":16,"y":0.14},{"x":16.3,"y":0.115},{"x":16.6,"y":0.125},{"x":15.4,"y":0.09},{"x":11.4,"y":0.08},{"x":11.7,"y":0.085},{"x":12.15,"y":0.09},{"x":12.45,"y":0.09},{"x":12.75,"y":0.09},{"x":13.05,"y":0.09},{"x":13.35,"y":0.09},{"x":13.65,"y":0.09},{"x":13.95,"y":0.09},{"x":14.25,"y":0.09},{"x":14.55,"y":0.09},{"x":14.85,"y":0.09},{"x":12.3,"y":0.045},{"x":12.6,"y":0.045},{"x":12.9,"y":0.045},{"x":13.2,"y":0.045},{"x":13.5,"y":0.045},{"x":13.8,"y":0.045},{"x":14.1,"y":0.045},{"x":14.4,"y":0.045},{"x":14.7,"y":0.045},{"x":15,"y":0.055}],
"h":[{"x":12.6,"y":1},{"x":12.8,"y":1},{"x":13,"y":1},{"x":13.2,"y":1},{"x":13.4,"y":1},{"x":13.55,"y":1},{"x":13.7,"y":1},{"x":13.85,"y":1},{"x":14,"y":1},{"x":14.15,"y":1},{"x":14.3,"y":1},{"x":14.45,"y":1},{"x":14.6,"y":1},{"x":14.75,"y":1},{"x":14.9,"y":1},{"x":15.05,"y":1},{"x":15.2,"y":1},{"x":15.35,"y":1},{"x":15.5,"y":1},{"x":15.65,"y":1},{"x":15.8,"y":1},{"x":15.95,"y":1},{"x":16.1,"y":1},{"x":16.25,"y":1},{"x":16.4,"y":1},{"x":16.55,"y":1},{"x":16.7,"y":1},{"x":16.85,"y":1},{"x":17,"y":1},{"x":17.15,"y":1},{"x":17.3,"y":1},{"x":17.45,"y":1},{"x":17.6,"y":1},{"x":17.75,"y":1},{"x":17.9,"y":1},{"x":18.05,"y":1},{"x":18.2,"y":1},{"x":18.35,"y":1},{"x":18.5,"y":1},{"x":18.65,"y":1},{"x":18.8,"y":1},{"x":18.95,"y":1},{"x":19.1,"y":1},{"x":19.25,"y":1},{"x":19.4,"y":1},{"x":20,"y":1},{"x":20.2,"y":1},{"x":20.5,"y":1},{"x":20.7,"y":1},
{"x":12,"y":0},{"x":12.15,"y":0},{"x":12.3,"y":0},{"x":12.45,"y":0},{"x":12.6,"y":0},{"x":12.75,"y":0},{"x":12.9,"y":0},{"x":13.05,"y":0},{"x":13.2,"y":0},{"x":13.35,"y":0},{"x":13.5,"y":0},{"x":13.65,"y":0},{"x":13.8,"y":0},{"x":13.95,"y":0},{"x":14.1,"y":0},{"x":14.25,"y":0},{"x":14.4,"y":0},{"x":14.55,"y":0},{"x":14.7,"y":0},{"x":14.85,"y":0},{"x":15,"y":0},{"x":15.15,"y":0},{"x":15.3,"y":0},{"x":15.45,"y":0},{"x":15.6,"y":0},{"x":15.75,"y":0},{"x":15.9,"y":0},{"x":16.05,"y":0},{"x":16.2,"y":0},{"x":16.35,"y":0},{"x":16.5,"y":0},{"x":16.65,"y":0},{"x":16.8,"y":0},{"x":16.95,"y":0},{"x":17.1,"y":0},{"x":17.25,"y":0},{"x":17.4,"y":0},{"x":17.55,"y":0},{"x":17.7,"y":0},{"x":17.85,"y":0},{"x":18,"y":0},{"x":18.15,"y":0},{"x":18.3,"y":0},{"x":18.45,"y":0},{"x":18.6,"y":0},{"x":18.75,"y":0},{"x":18.9,"y":0},{"x":19.05,"y":0},{"x":19.2,"y":0},{"x":19.35,"y":0},{"x":19.5,"y":0},{"x":19.7,"y":0},{"x":20.4,"y":0},{"x":20.6,"y":0},{"x":20.8,"y":0},
{"x":14.3,"y":0.89},{"x":15,"y":0.87},{"x":17.7,"y":0.87},{"x":14.8,"y":0.855},{"x":16,"y":0.855},{"x":14.4,"y":0.83},{"x":15,"y":0.83},{"x":15.2,"y":0.83},{"x":15.7,"y":0.83},{"x":17.4,"y":0.83},{"x":17.7,"y":0.83},{"x":18.7,"y":0.83},{"x":18.9,"y":0.83},{"x":19.1,"y":0.85},{"x":19.2,"y":0.85},{"x":13,"y":0.8},{"x":13.7,"y":0.8},{"x":13.9,"y":0.8},{"x":14.1,"y":0.8},{"x":14.3,"y":0.8},{"x":14.5,"y":0.8},{"x":14.7,"y":0.8},{"x":14.9,"y":0.8},{"x":15.1,"y":0.8},{"x":15.3,"y":0.8},{"x":15.5,"y":0.8},{"x":15.7,"y":0.8},{"x":15.9,"y":0.8},{"x":16.2,"y":0.8},{"x":16.4,"y":0.8},{"x":16.6,"y":0.8},{"x":17,"y":0.8},{"x":17.1,"y":0.79},{"x":17.3,"y":0.8},{"x":17.7,"y":0.8},{"x":18,"y":0.8},{"x":18.2,"y":0.8},{"x":18.5,"y":0.8},
{"x":12.9,"y":0.75},{"x":13.06,"y":0.75},{"x":13.3,"y":0.75},{"x":13.46,"y":0.75},{"x":13.62,"y":0.75},{"x":13.78,"y":0.75},{"x":13.94,"y":0.75},{"x":14.1,"y":0.75},{"x":14.26,"y":0.75},{"x":14.42,"y":0.75},{"x":14.58,"y":0.75},{"x":14.74,"y":0.75},{"x":14.9,"y":0.75},{"x":15.06,"y":0.75},{"x":15.22,"y":0.75},{"x":15.38,"y":0.75},{"x":15.54,"y":0.75},{"x":15.7,"y":0.75},{"x":15.86,"y":0.75},{"x":16.02,"y":0.75},{"x":16.18,"y":0.75},{"x":16.34,"y":0.75},{"x":16.5,"y":0.75},{"x":16.66,"y":0.75},{"x":16.82,"y":0.75},{"x":16.98,"y":0.75},{"x":17.14,"y":0.75},{"x":17.3,"y":0.75},{"x":17.46,"y":0.75},{"x":17.62,"y":0.75},{"x":18.3,"y":0.75},{"x":18.5,"y":0.75},{"x":18.6,"y":0.75},{"x":14.4,"y":0.71},{"x":14.6,"y":0.71},{"x":14.9,"y":0.71},{"x":15.1,"y":0.71},{"x":15.4,"y":0.71},{"x":16.4,"y":0.71},{"x":17.3,"y":0.71},
{"x":13.1,"y":0.667},{"x":13.26,"y":0.667},{"x":13.5,"y":0.667},{"x":13.66,"y":0.667},{"x":13.82,"y":0.667},{"x":13.98,"y":0.667},{"x":14.14,"y":0.667},{"x":14.3,"y":0.667},{"x":14.46,"y":0.667},{"x":14.62,"y":0.667},{"x":14.78,"y":0.667},{"x":14.94,"y":0.667},{"x":15.1,"y":0.667},{"x":15.26,"y":0.667},{"x":15.42,"y":0.667},{"x":15.58,"y":0.667},{"x":15.74,"y":0.667},{"x":15.9,"y":0.667},{"x":16.06,"y":0.667},{"x":16.22,"y":0.667},{"x":16.38,"y":0.667},{"x":16.54,"y":0.667},{"x":16.7,"y":0.667},{"x":16.86,"y":0.667},{"x":17.02,"y":0.667},{"x":17.18,"y":0.667},{"x":17.34,"y":0.667},{"x":17.5,"y":0.667},{"x":17.66,"y":0.667},{"x":17.82,"y":0.667},{"x":17.95,"y":0.667},{"x":18.9,"y":0.667},
{"x":13.2,"y":0.63},{"x":14.9,"y":0.63},{"x":15.1,"y":0.63},{"x":15.3,"y":0.63},{"x":15.5,"y":0.63},{"x":15.7,"y":0.63},{"x":12.6,"y":0.6},{"x":12.8,"y":0.6},{"x":13.4,"y":0.6},{"x":13.7,"y":0.6},{"x":13.86,"y":0.6},{"x":14.02,"y":0.6},{"x":14.18,"y":0.6},{"x":14.34,"y":0.6},{"x":14.5,"y":0.6},{"x":14.66,"y":0.6},{"x":14.82,"y":0.6},{"x":14.98,"y":0.6},{"x":15.14,"y":0.6},{"x":15.3,"y":0.6},{"x":15.46,"y":0.6},{"x":15.62,"y":0.6},{"x":15.78,"y":0.6},{"x":15.94,"y":0.6},{"x":16.1,"y":0.6},{"x":16.4,"y":0.6},{"x":16.6,"y":0.6},{"x":16.8,"y":0.6},{"x":17.1,"y":0.6},{"x":17.4,"y":0.6},{"x":17.7,"y":0.6},{"x":13.6,"y":0.55},{"x":13.94,"y":0.55},{"x":14.1,"y":0.55},{"x":14.26,"y":0.55},{"x":14.42,"y":0.55},{"x":14.58,"y":0.55},{"x":14.74,"y":0.55},{"x":14.9,"y":0.55},{"x":15.06,"y":0.55},{"x":15.22,"y":0.55},{"x":15.38,"y":0.55},{"x":15.54,"y":0.55},{"x":15.7,"y":0.55},{"x":16.2,"y":0.55},{"x":16.8,"y":0.55},{"x":16.4,"y":0.55},
{"x":12.5,"y":0.5},{"x":12.74,"y":0.5},{"x":12.9,"y":0.5},{"x":13.06,"y":0.5},{"x":13.22,"y":0.5},{"x":13.38,"y":0.5},{"x":13.54,"y":0.5},{"x":13.7,"y":0.5},{"x":13.86,"y":0.5},{"x":14.02,"y":0.5},{"x":14.18,"y":0.5},{"x":14.34,"y":0.5},{"x":14.5,"y":0.5},{"x":14.66,"y":0.5},{"x":14.82,"y":0.5},{"x":14.98,"y":0.5},{"x":15.14,"y":0.5},{"x":15.3,"y":0.5},{"x":15.46,"y":0.5},{"x":15.62,"y":0.5},{"x":15.78,"y":0.5},{"x":15.94,"y":0.5},{"x":16.1,"y":0.5},{"x":16.26,"y":0.5},{"x":16.42,"y":0.5},{"x":16.58,"y":0.5},{"x":16.74,"y":0.5},{"x":16.9,"y":0.5},{"x":17.06,"y":0.5},{"x":17.22,"y":0.5},{"x":17.38,"y":0.5},{"x":17.54,"y":0.5},{"x":17.7,"y":0.5},{"x":17.86,"y":0.5},{"x":18,"y":0.5},{"x":18.2,"y":0.5},{"x":18.5,"y":0.5},
{"x":13.3,"y":0.46},{"x":13.46,"y":0.46},{"x":13.62,"y":0.46},{"x":13.78,"y":0.46},{"x":13.94,"y":0.46},{"x":14.1,"y":0.46},{"x":14.26,"y":0.46},{"x":14.42,"y":0.46},{"x":14.58,"y":0.46},{"x":14.74,"y":0.46},{"x":14.9,"y":0.46},{"x":15.06,"y":0.46},{"x":15.22,"y":0.46},{"x":15.38,"y":0.46},{"x":15.54,"y":0.46},{"x":15.7,"y":0.46},{"x":15.86,"y":0.46},{"x":16.02,"y":0.46},{"x":16.2,"y":0.45},{"x":16.5,"y":0.45},{"x":16.8,"y":0.45},{"x":17,"y":0.43},{"x":17.7,"y":0.43},
{"x":13.22,"y":0.42},{"x":13.38,"y":0.42},{"x":13.54,"y":0.42},{"x":13.7,"y":0.42},{"x":13.86,"y":0.42},{"x":14.02,"y":0.42},{"x":14.18,"y":0.42},{"x":14.34,"y":0.42},{"x":14.5,"y":0.42},{"x":14.66,"y":0.42},{"x":14.82,"y":0.42},{"x":14.98,"y":0.42},{"x":15.14,"y":0.42},{"x":15.3,"y":0.42},{"x":15.46,"y":0.42},{"x":15.62,"y":0.42},{"x":15.78,"y":0.42},{"x":15.94,"y":0.42},{"x":16.1,"y":0.42},{"x":16.3,"y":0.4},{"x":16.8,"y":0.4},{"x":18,"y":0.4},{"x":12.98,"y":0.38},{"x":13.14,"y":0.38},{"x":13.3,"y":0.38},{"x":13.46,"y":0.38},{"x":13.62,"y":0.38},{"x":13.78,"y":0.38},{"x":13.94,"y":0.38},{"x":14.1,"y":0.38},{"x":14.26,"y":0.38},{"x":14.42,"y":0.38},{"x":14.58,"y":0.38},{"x":14.74,"y":0.38},{"x":14.9,"y":0.38},{"x":15.06,"y":0.38},{"x":15.22,"y":0.38},{"x":15.38,"y":0.38},{"x":15.54,"y":0.38},{"x":15.7,"y":0.38},{"x":15.86,"y":0.38},{"x":16.02,"y":0.38},{"x":16.2,"y":0.375},{"x":17.3,"y":0.375},
{"x":12.8,"y":0.333},{"x":13.06,"y":0.34},{"x":13.22,"y":0.34},{"x":13.38,"y":0.34},{"x":13.54,"y":0.34},{"x":13.7,"y":0.34},{"x":13.86,"y":0.34},{"x":14.02,"y":0.34},{"x":14.18,"y":0.34},{"x":14.34,"y":0.34},{"x":14.5,"y":0.34},{"x":14.66,"y":0.34},{"x":14.82,"y":0.34},{"x":14.98,"y":0.34},{"x":15.14,"y":0.34},{"x":15.3,"y":0.34},{"x":15.46,"y":0.34},{"x":15.62,"y":0.34},{"x":15.78,"y":0.34},{"x":15.94,"y":0.34},{"x":16.1,"y":0.34},{"x":16.3,"y":0.333},{"x":16.5,"y":0.333},{"x":16.7,"y":0.333},{"x":16.9,"y":0.333},{"x":17.1,"y":0.333},{"x":17.3,"y":0.333},{"x":17.6,"y":0.333},{"x":17.8,"y":0.333},{"x":18,"y":0.333},{"x":12.3,"y":0.285},{"x":12.7,"y":0.295},
{"x":12.98,"y":0.3},{"x":13.14,"y":0.3},{"x":13.3,"y":0.3},{"x":13.46,"y":0.3},{"x":13.62,"y":0.3},{"x":13.78,"y":0.3},{"x":13.94,"y":0.3},{"x":14.1,"y":0.3},{"x":14.26,"y":0.3},{"x":14.42,"y":0.3},{"x":14.58,"y":0.3},{"x":14.74,"y":0.3},{"x":14.9,"y":0.3},{"x":15.06,"y":0.3},{"x":15.22,"y":0.3},{"x":15.38,"y":0.3},{"x":15.54,"y":0.3},{"x":15.7,"y":0.3},{"x":15.86,"y":0.3},{"x":16.02,"y":0.3},{"x":16.4,"y":0.29},{"x":16.7,"y":0.29},{"x":17.4,"y":0.285},{"x":17.9,"y":0.285},
{"x":13.06,"y":0.26},{"x":13.22,"y":0.26},{"x":13.38,"y":0.26},{"x":13.54,"y":0.26},{"x":13.7,"y":0.26},{"x":13.86,"y":0.26},{"x":14.02,"y":0.26},{"x":14.18,"y":0.26},{"x":14.34,"y":0.26},{"x":14.5,"y":0.26},{"x":14.66,"y":0.26},{"x":14.82,"y":0.26},{"x":14.98,"y":0.26},{"x":15.14,"y":0.26},{"x":15.3,"y":0.26},{"x":15.46,"y":0.26},{"x":15.62,"y":0.26},{"x":15.78,"y":0.26},{"x":15.94,"y":0.26},{"x":16.1,"y":0.26},{"x":16.3,"y":0.25},{"x":16.7,"y":0.25},{"x":16.9,"y":0.25},{"x":17.1,"y":0.25},{"x":17.3,"y":0.25},{"x":17.7,"y":0.25},
{"x":12.1,"y":0.19},{"x":12.5,"y":0.2},{"x":12.9,"y":0.22},{"x":13.14,"y":0.22},{"x":13.3,"y":0.22},{"x":13.46,"y":0.22},{"x":13.62,"y":0.22},{"x":13.78,"y":0.22},{"x":13.94,"y":0.22},{"x":14.1,"y":0.22},{"x":14.26,"y":0.22},{"x":14.42,"y":0.22},{"x":14.58,"y":0.22},{"x":14.74,"y":0.22},{"x":14.9,"y":0.22},{"x":15.06,"y":0.22},{"x":15.22,"y":0.22},{"x":15.38,"y":0.22},{"x":15.54,"y":0.22},{"x":15.7,"y":0.22},{"x":15.86,"y":0.22},{"x":16.02,"y":0.22},{"x":16.4,"y":0.2},{"x":16.8,"y":0.2},{"x":17,"y":0.2},{"x":12.3,"y":0.14},{"x":12.7,"y":0.15},{"x":13,"y":0.17},{"x":13.22,"y":0.18},{"x":13.38,"y":0.18},{"x":13.54,"y":0.18},{"x":13.7,"y":0.18},{"x":13.86,"y":0.18},{"x":14.02,"y":0.18},{"x":14.18,"y":0.18},{"x":14.34,"y":0.18},{"x":14.5,"y":0.18},{"x":14.66,"y":0.18},{"x":14.82,"y":0.18},{"x":14.98,"y":0.18},{"x":15.14,"y":0.18},{"x":15.3,"y":0.18},{"x":15.46,"y":0.18},{"x":15.62,"y":0.18},{"x":15.78,"y":0.18},{"x":15.94,"y":0.18},{"x":16.1,"y":0.18},{"x":16.5,"y":0.17},{"x":16.8,"y":0.17},{"x":17.1,"y":0.167},{"x":17.6,"y":0.167},
{"x":12.98,"y":0.13},{"x":13.3,"y":0.14},{"x":13.46,"y":0.14},{"x":13.62,"y":0.14},{"x":13.78,"y":0.14},{"x":13.94,"y":0.14},{"x":14.1,"y":0.14},{"x":14.26,"y":0.14},{"x":14.42,"y":0.14},{"x":14.58,"y":0.14},{"x":14.74,"y":0.14},{"x":14.9,"y":0.14},{"x":15.06,"y":0.14},{"x":15.22,"y":0.14},{"x":15.38,"y":0.14},{"x":15.54,"y":0.14},{"x":15.7,"y":0.14},{"x":15.86,"y":0.14},{"x":16.02,"y":0.14},{"x":16.3,"y":0.14},{"x":16.6,"y":0.14},{"x":17.4,"y":0.14},{"x":17.8,"y":0.14},{"x":17.9,"y":0.125},{"x":17.1,"y":0.11},{"x":12.9,"y":0.09},{"x":13.38,"y":0.1},{"x":13.54,"y":0.1},{"x":13.7,"y":0.1},{"x":13.86,"y":0.1},{"x":14.02,"y":0.1},{"x":14.18,"y":0.1},{"x":14.34,"y":0.1},{"x":14.5,"y":0.1},{"x":14.66,"y":0.1},{"x":14.82,"y":0.1},{"x":14.98,"y":0.1},{"x":15.14,"y":0.1},{"x":15.3,"y":0.1},{"x":15.46,"y":0.1},{"x":15.62,"y":0.1},{"x":15.78,"y":0.1},{"x":15.94,"y":0.1},{"x":16.3,"y":0.09},{"x":13,"y":0.045},
{"x":13.46,"y":0.055},{"x":13.62,"y":0.055},{"x":13.78,"y":0.055},{"x":13.94,"y":0.055},{"x":14.1,"y":0.055},{"x":14.26,"y":0.055},{"x":14.42,"y":0.055},{"x":14.58,"y":0.055},{"x":14.74,"y":0.055},{"x":14.9,"y":0.055},{"x":15.06,"y":0.055},{"x":15.22,"y":0.055},{"x":15.38,"y":0.055},{"x":15.54,"y":0.055},{"x":15.7,"y":0.055},{"x":15.86,"y":0.055},{"x":13.54,"y":0.025},{"x":13.86,"y":0.025},{"x":14.18,"y":0.025},{"x":14.5,"y":0.025},{"x":14.82,"y":0.025},{"x":15.14,"y":0.025},{"x":15.46,"y":0.025},{"x":15.78,"y":0.025}]
},
"concat":[
{"width":464,"height":178,"title":"Período 2006-2020","encoding":{"x":{"field":"x","type":"quantitative","scale":{"domain":[8.62,21.2],"nice":false,"zero":false},"axis":{"values":[10,15,20],"labelOverlap":false,"title":"E-Valor Compras"}},"y":{"field":"y","type":"quantitative","scale":{"domain":[-0.137,1.063],"nice":false,"zero":false},"axis":{"values":[0,0.2,0.4,0.6,0.8,1],"labelOverlap":false,"labelExpr":"replace(format(datum.value,'~g'),'0.','.')","title":"Porcentaje de empresas exportadoras"}}},"layer":[{"data":{"name":"e"},"mark":{"type":"point","filled":true,"color":"#0000ff","opacity":1,"size":58}},{"data":{"name":"e"},"transform":[{"filter":{"or":[{"and":[{"field":"x","range":[11.9,15.2]},{"field":"y","range":[0.04,0.62]}]},{"and":[{"field":"x","range":[13,14.8]},{"field":"y","range":[0.62,0.7]}]}]}}],"mark":{"type":"point","filled":true,"color":"#0000ff","opacity":1,"size":100}},{"data":{"values":[{"x":9.01,"y":-0.07},{"x":20.82,"y":0.784}]},"mark":{"type":"line","color":"#ff2a2a","strokeWidth":1.6,"strokeDash":[15,6]}}]},
{"width":464,"height":178,"title":"Período 2006-2020","encoding":{"x":{"field":"x","type":"quantitative","scale":{"domain":[-0.72,23.06],"nice":false,"zero":false},"axis":{"values":[0,5,10,15,20],"labelOverlap":false,"title":"F-Inversión Bruta"}},"y":{"field":"y","type":"quantitative","scale":{"domain":[-0.063,1.058],"nice":false,"zero":false},"axis":{"values":[0,0.2,0.4,0.6,0.8,1],"labelOverlap":false,"labelExpr":"replace(format(datum.value,'~g'),'0.','.')","title":"Porcentaje de empresas exportadoras"}}},"layer":[{"data":{"name":"f"},"mark":{"type":"point","filled":true,"color":"#0000ff","opacity":1,"size":58}},{"data":{"name":"f"},"transform":[{"filter":{"or":[{"and":[{"field":"x","range":[3.7,10.2]},{"field":"y","range":[0.02,0.48]}]},{"and":[{"field":"x","range":[5.9,10.3]},{"field":"y","range":[0.5,0.7]}]}]}}],"mark":{"type":"point","filled":true,"color":"#0000ff","opacity":1,"size":100}},{"data":{"values":[{"x":0,"y":0.093},{"x":22.2,"y":0.632}]},"mark":{"type":"line","color":"#ff2a2a","strokeWidth":1.6,"strokeDash":[15,6]}}]},
{"width":464,"height":179,"title":"Período 2006-2020","encoding":{"x":{"field":"x","type":"quantitative","scale":{"domain":[9.5,25.5],"nice":false,"zero":false},"axis":{"values":[10,15,20,25],"labelOverlap":false,"title":"G-Activos fijos"}},"y":{"field":"y","type":"quantitative","scale":{"domain":[-0.103,1.065],"nice":false,"zero":false},"axis":{"values":[0,0.2,0.4,0.6,0.8,1],"labelOverlap":false,"labelExpr":"replace(format(datum.value,'~g'),'0.','.')","title":"Porcentaje de empresas exportadoras"}}},"layer":[{"data":{"name":"g"},"mark":{"type":"point","filled":true,"color":"#0000ff","opacity":1,"size":58}},{"data":{"name":"g"},"transform":[{"filter":{"or":[{"and":[{"field":"x","range":[12,15.2]},{"field":"y","range":[0.04,0.47]}]},{"and":[{"field":"x","range":[13,15]},{"field":"y","range":[0.5,0.64]}]}]}}],"mark":{"type":"point","filled":true,"color":"#0000ff","opacity":1,"size":100}},{"data":{"values":[{"x":10.05,"y":-0.037},{"x":22.37,"y":0.95}]},"mark":{"type":"line","color":"#ff2a2a","strokeWidth":1.6,"strokeDash":[15,6]}}]},
{"width":464,"height":179,"title":"Período 2006-2020","encoding":{"x":{"field":"x","type":"quantitative","scale":{"domain":[11.72,21.06],"nice":false,"zero":false},"axis":{"values":[12,14,16,18,20],"labelOverlap":false,"title":"H-Valor Ventas"}},"y":{"field":"y","type":"quantitative","scale":{"domain":[-0.063,1.063],"nice":false,"zero":false},"axis":{"values":[0,0.2,0.4,0.6,0.8,1],"labelOverlap":false,"labelExpr":"replace(format(datum.value,'~g'),'0.','.')","title":"Porcentaje de empresas exportadoras"}}},"layer":[{"data":{"name":"h"},"mark":{"type":"point","filled":true,"color":"#0000ff","opacity":1,"size":58}},{"data":{"name":"h"},"transform":[{"filter":{"or":[{"and":[{"field":"x","range":[13.4,16]},{"field":"y","range":[0.02,0.47]}]},{"and":[{"field":"x","range":[14,15.7]},{"field":"y","range":[0.5,0.66]}]}]}}],"mark":{"type":"point","filled":true,"color":"#0000ff","opacity":1,"size":100}},{"data":{"values":[{"x":12.04,"y":0},{"x":20.75,"y":0.838}]},"mark":{"type":"line","color":"#ff2a2a","strokeWidth":1.6,"strokeDash":[15,6]}}]}
]}
